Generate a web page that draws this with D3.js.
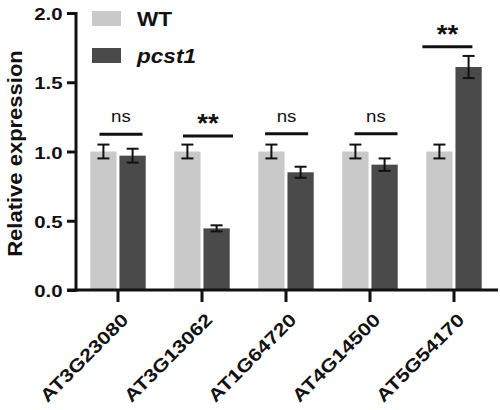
<!DOCTYPE html>
<html><head><meta charset="utf-8">
<script src="https://cdn.jsdelivr.net/npm/d3@7"></script>
<style>body{margin:0;background:#fff}svg{display:block}text{font-family:Arial,"Liberation Sans",sans-serif}</style>
</head><body><svg id="c" width="500" height="410"></svg>
<script>
const categories = ["AT3G23080","AT3G13062","AT1G64720","AT4G14500","AT5G54170"];
const series = ["WT","pcst1"];
const wtValues = [1.0,1.0,1.0,1.0,1.0];
const wtErrors = [0.05,0.05,0.05,0.05,0.05];
const pcstValues = [0.97,0.445,0.85,0.905,1.61];
const pcstErrors = [0.05,0.022,0.04,0.045,0.08];
const sigLabels = ["ns","**","ns","ns","**"];
const sigLevels = [1.124,1.112,1.128,1.128,1.757];
const yTicks = [0.0,0.5,1.0,1.5,2.0];
const colors = ["#c9c9c9","#4a4a4a"];
const sigShift = [3,6,0.6,6,-6.6];

const svg = d3.select("#c");
const x = d3.scaleBand().domain(categories).range([76,496]).paddingInner(0.34).paddingOuter(0.17);
const y = d3.scaleLinear().domain([0,2]).range([290,13]);
const xs = d3.scaleBand().domain(series).range([0,x.bandwidth()]).paddingInner(0.1);

const data = [wtValues, pcstValues];
const errs = [wtErrors, pcstErrors];

series.forEach((s,si)=>{
  const g = svg.append("g");
  g.selectAll("rect").data(categories).join("rect")
    .attr("x",c=>x(c)+xs(s)).attr("width",xs.bandwidth())
    .attr("y",(c,i)=>y(data[si][i])).attr("height",(c,i)=>y(0)-y(data[si][i]))
    .attr("fill",colors[si]);
  categories.forEach((c,i)=>{
    const cx = x(c)+xs(s)+xs.bandwidth()/2;
    const v = data[si][i], e = errs[si][i];
    const eg = svg.append("g").attr("stroke","#111").attr("stroke-width",2);
    eg.append("line").attr("x1",cx).attr("x2",cx).attr("y1",y(v+e)).attr("y2",y(v-e));
    eg.append("line").attr("x1",cx-6).attr("x2",cx+6).attr("y1",y(v+e)).attr("y2",y(v+e));
    eg.append("line").attr("x1",cx-6).attr("x2",cx+6).attr("y1",y(v-e)).attr("y2",y(v-e));
  });
});

// significance
categories.forEach((c,i)=>{
  const star = sigLabels[i]==="**";
  const cx = x(c)+x.bandwidth()/2+sigShift[i];
  const hw = star?25:21.5;
  const yy = y(sigLevels[i]);
  svg.append("line").attr("x1",cx-hw).attr("x2",cx+hw).attr("y1",yy).attr("y2",yy).attr("stroke","#111").attr("stroke-width",3);
  svg.append("text").attr("transform",`translate(${cx},${yy-(star?4:12)}) scale(1.1,1)`).attr("text-anchor","middle")
    .attr("font-size",star?25:17).attr("font-weight",star?"bold":"normal").attr("fill","#111").text(sigLabels[i]);
});

// y axis
const ya = svg.append("g").attr("transform","translate(76,0)")
  .call(d3.axisLeft(y).tickValues(yTicks).tickFormat(d3.format(".1f")).tickSize(9));
ya.select(".domain").attr("stroke","#111").attr("stroke-width",3).attr("d","M0,"+(y(2)-1)+"V"+(y(0)+1.5));
ya.selectAll(".tick line").attr("stroke","#111").attr("stroke-width",3);
ya.selectAll(".tick text").attr("font-size",17).attr("font-weight","bold").attr("fill","#111")
  .attr("x",0).attr("dy","0.36em").attr("transform","translate(-13.5,0.5) scale(1.2,1)");

// x axis
const xa = svg.append("g").attr("transform","translate(0,290)")
  .call(d3.axisBottom(x).tickSize(12));
xa.select(".domain").attr("stroke","#111").attr("stroke-width",3).attr("d","M67,0H498");
xa.selectAll(".tick line").attr("stroke","#111").attr("stroke-width",3);
xa.selectAll(".tick text").attr("font-size",18).attr("font-weight","bold").attr("fill","#111")
  .attr("text-anchor","end").attr("x",0).attr("y",0).attr("dy","0.36em")
  .attr("transform","translate(7,26.5) rotate(-45) scale(1.2,1)");

// y label
svg.append("text").attr("transform","translate(22,153.5) rotate(-90) scale(1.1,1)").attr("text-anchor","middle")
  .attr("font-size",20).attr("font-weight","bold").attr("fill","#111").text("Relative expression");

// legend
series.forEach((s,si)=>{
  const ly = 11 + si*37;
  svg.append("rect").attr("x",92).attr("y",ly).attr("width",29).attr("height",15).attr("fill",colors[si]);
  svg.append("text").attr("transform",`translate(137,${ly+15}) scale(1.13,1)`).attr("font-size",20).attr("font-weight","bold")
    .attr("font-style",si===1?"italic":"normal").attr("fill","#111").text(s);
});
</script></body></html>
